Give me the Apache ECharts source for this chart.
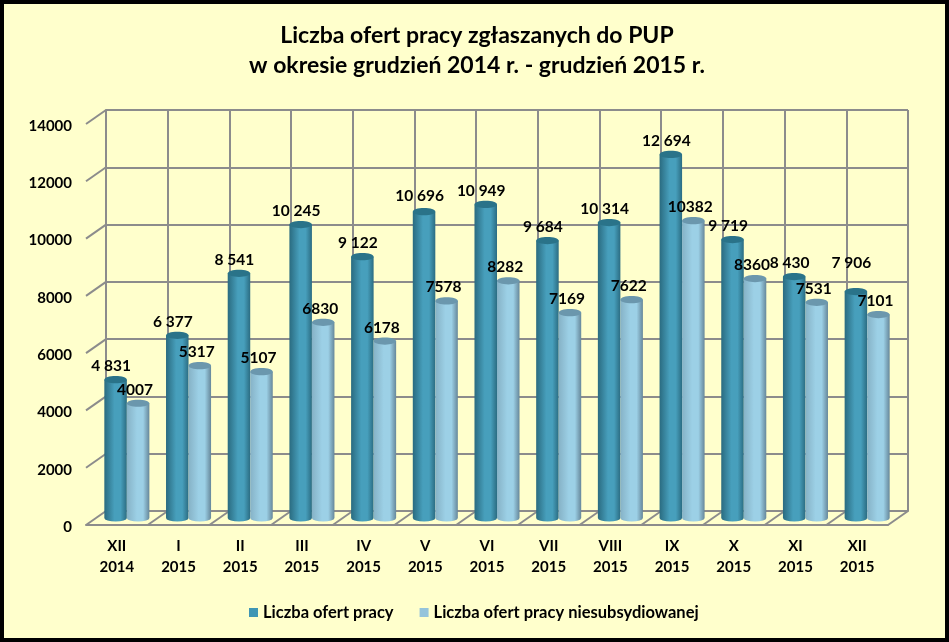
<!DOCTYPE html>
<html><head><meta charset="utf-8">
<style>html,body{margin:0;padding:0;background:#000}#c{width:949px;height:642px}</style>
<script src="https://cdn.jsdelivr.net/npm/echarts@6/dist/echarts.min.js"></script>
</head><body><div id="c"></div>
<script>
const categories = ['XII\n2014','I\n2015','II\n2015','III\n2015','IV\n2015','V\n2015','VI\n2015','VII\n2015','VIII\n2015','IX\n2015','X\n2015','XI\n2015','XII\n2015'];
const offers = [4831,6377,8541,10245,9122,10696,10949,9684,10314,12694,9719,8430,7906];
const unsubsidised = [4007,5317,5107,6830,6178,7578,8282,7169,7622,10382,8360,7531,7101];
const yTicks = [0,2000,4000,6000,8000,10000,12000,14000];
const offersName = 'Liczba ofert pracy';
const unsubsidisedName = 'Liczba ofert pracy niesubsydiowanej';
const titleText = 'Liczba ofert pracy zgłaszanych do PUP\nw okresie grudzień 2014 r. - grudzień 2015 r.';

const FONT = 'Lato, "Open Sans", sans-serif';
const GRID = '#8c8c8c';
const DX = 20, DY = 14;
const W = 949, H = 642;
const wall = {left:106, right:W-908, top:110, bottom:H-511};
const shift = (g,k) => ({left:g.left-DX*k, right:g.right+DX*k, top:g.top+DY*k, bottom:g.bottom-DY*k});
const fmtSpaced = v => String(v).replace(/\B(?=(\d{3})+$)/g,' ');
const labelNudge = {dark:{5:[0,-2],12:[0,-15]}, light:{}};

function cyl(kind, side){
  const pal = kind==='dark'
    ? {edge:'#2a6b80', mid:'#479fbc', right:'#2b6c82', top:'#2a7389'}
    : {edge:'#86b2c6', mid:'#9cd0e6', right:'#66879a', top:'#6b97ad'};
  return (params, api) => {
    const i = api.value(0), v = api.value(1);
    const top = api.coord([i,v]), base = api.coord([i,0]);
    const bw = api.size([1,0])[0];
    const w = bw*0.365, rx = w/2, ry = 3.6;
    const cx = top[0] + side*w/2;
    const nudge = labelNudge[kind][i] || [0,0];
    const grad = new echarts.graphic.LinearGradient(0,0,1,0,[
      {offset:0,color:pal.edge},{offset:.45,color:pal.mid},{offset:.72,color:pal.mid},{offset:1,color:pal.right}]);
    return {type:'group', children:[
      {type:'path', shape:{
          pathData:`M${cx-rx} ${top[1]}L${cx-rx} ${base[1]}A${rx} ${ry} 0 0 0 ${cx+rx} ${base[1]}L${cx+rx} ${top[1]}Z`
        }, style:{fill:grad}},
      {type:'ellipse', shape:{cx:cx, cy:top[1], rx:rx, ry:ry}, style:{fill:pal.top}},
      {type:'text', z2:50, style:{
        x:cx+(kind==='dark'?-4.5:-3)+nudge[0], y:top[1]-13.5+nudge[1],
        text:kind==='dark'?fmtSpaced(v):String(v),
        align:'center', verticalAlign:'middle',
        font:'bold 15.5px '+FONT, fill:'#000'}}
    ]};
  };
}

const front = shift(wall,1);
const chart = echarts.init(document.getElementById('c'), null, {renderer:'canvas'});
chart.setOption({
  animation:false,
  backgroundColor:'#000',
  graphic:[{type:'rect', z:-10, shape:{x:4,y:4,width:941,height:634}, style:{fill:'#FFFFCC'}}],
  title:{text:titleText, left:472, top:16, textAlign:'center',
    textStyle:{fontFamily:FONT,fontWeight:'bold',fontSize:23,lineHeight:30,color:'#000'}},
  legend:{left:244, top:599, itemWidth:9, itemHeight:9, itemGap:26, icon:'rect',
    data:[offersName,unsubsidisedName],
    textStyle:{fontFamily:FONT,fontWeight:'bold',fontSize:16.5,color:'#000'}},
  grid:[
    Object.assign({containLabel:false},wall),
    Object.assign({containLabel:false},shift(wall,0.5)),
    Object.assign({containLabel:false},front),
    {containLabel:false,left:front.left,right:front.right,top:front.top+2,bottom:front.bottom-2}
  ],
  xAxis:[0,1,2,3].map(k=>({
    gridIndex:k, type:'category', data:categories,
    axisTick:{show:false},
    axisLine:{show:k===0||k===2, lineStyle:{color:GRID,width:2}},
    splitLine:{show:k===0, lineStyle:{color:GRID,width:2}},
    axisLabel:k===2?{show:true,fontFamily:FONT,fontWeight:'bold',fontSize:15,lineHeight:21,color:'#000',margin:11,interval:0}:{show:false}
  })),
  yAxis:[0,1,2,3].map(k=>({
    gridIndex:k, type:'value', min:0, max:14000, interval:2000,
    axisTick:{show:false},
    axisLine:{show:k===0, lineStyle:{color:GRID,width:2}},
    splitLine:{show:k===0, lineStyle:{color:GRID,width:2}},
    axisLabel:k===3?{show:true,fontFamily:FONT,fontWeight:'bold',fontSize:15,color:'#000',margin:14,formatter:v=>String(v)}:{show:false}
  })),
  series:[
    {type:'custom', name:'wall', xAxisIndex:0, yAxisIndex:0, silent:true, z:1,
      data:yTicks.map(t=>[0,t]),
      renderItem:(p,api)=>{const c=api.coord([0,api.value(1)]);const x=p.coordSys.x;
        return {type:'line',shape:{x1:x,y1:c[1],x2:x-DX,y2:c[1]+DY},style:{stroke:GRID,lineWidth:2}};}},
    {type:'custom', name:'floor', xAxisIndex:0, yAxisIndex:0, silent:true, z:1,
      data:categories.map((c,i)=>[i,0]),
      renderItem:(p,api)=>{const c=api.coord([api.value(0),0]);const bw=api.size([1,0])[0];
        const x=c[0]+bw/2;
        return {type:'line',shape:{x1:x,y1:c[1],x2:x-DX,y2:c[1]+DY},style:{stroke:GRID,lineWidth:2}};}},
    {type:'custom', name:offersName, xAxisIndex:1, yAxisIndex:1, z:3, itemStyle:{color:'#3F96B4'},
      data:offers.map((v,i)=>[i,v]), renderItem:cyl('dark',-1)},
    {type:'custom', name:unsubsidisedName, xAxisIndex:1, yAxisIndex:1, z:4, itemStyle:{color:'#95C4DB'},
      data:unsubsidised.map((v,i)=>[i,v]), renderItem:cyl('light',1)}
  ]
});
</script></body></html>
